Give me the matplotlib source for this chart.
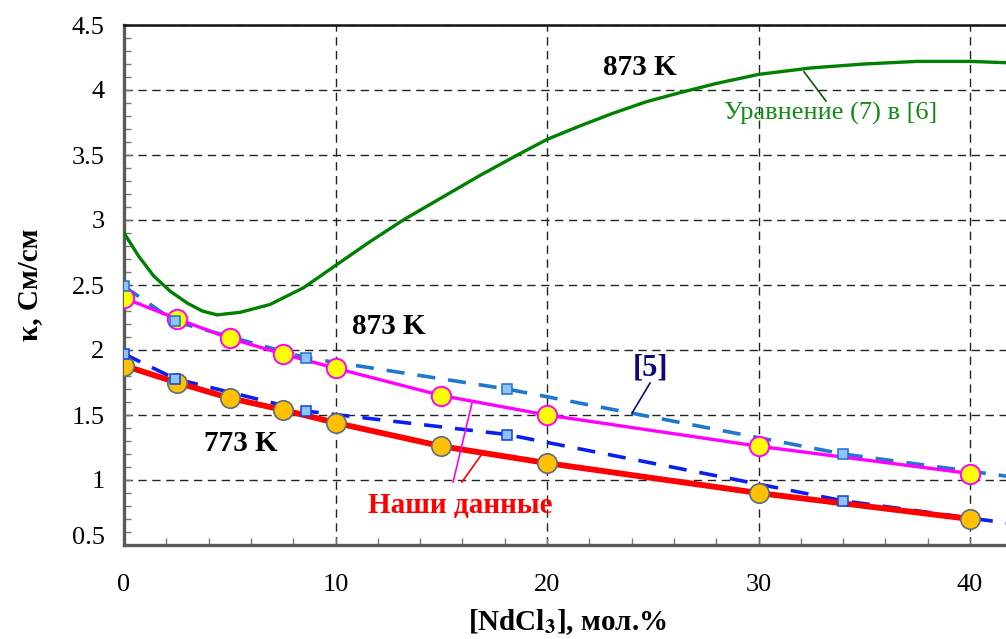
import matplotlib
matplotlib.use("Agg")
import matplotlib.pyplot as plt
from matplotlib.ticker import MultipleLocator
from matplotlib.transforms import ScaledTranslation

# ---- data ----
x_ours = [0, 2.5, 5, 7.5, 10, 15, 20, 30, 40]
y_ours_873 = [2.40, 2.24, 2.09, 1.97, 1.86, 1.65, 1.50, 1.26, 1.05]
y_ours_773 = [1.88, 1.75, 1.63, 1.54, 1.44, 1.26, 1.13, 0.90, 0.70]

x_ref5 = [0, 2.4, 8.6, 18.1, 34, 41.7]
y_ref5_873 = [2.49, 2.22, 1.94, 1.70, 1.20, 1.03]
y_ref5_773 = [1.97, 1.78, 1.53, 1.35, 0.84, 0.67]

x_eq7 = [0, 0.7, 1.4, 2.2, 3.0, 3.7, 4.4, 5.5, 6.9, 8.5, 10, 11.6, 13.2, 15, 16.8,
         18.6, 20, 21.5, 23.1, 24.7, 26.3, 28, 30, 32.5, 35, 37.5, 40, 41.7]
y_eq7 = [2.90, 2.72, 2.57, 2.45, 2.36, 2.30, 2.27, 2.29, 2.35, 2.48, 2.65, 2.83,
         3.00, 3.17, 3.34, 3.50, 3.62, 3.72, 3.82, 3.91, 3.98, 4.05, 4.12, 4.17,
         4.20, 4.22, 4.22, 4.21]

xticks = [0, 10, 20, 30, 40]
yticks = [0.5, 1, 1.5, 2, 2.5, 3, 3.5, 4, 4.5]
ytick_labels = ["0.5", "1", "1.5", "2", "2.5", "3", "3.5", "4", "4.5"]

# ---- style ----
plt.rcParams["font.family"] = ["Liberation Serif", "DejaVu Serif"]
plt.rcParams["mathtext.fontset"] = "stix"

fig = plt.figure(figsize=(10.06, 6.39), dpi=100)
ax = fig.add_axes([124 / 1006, 94 / 639, 882 / 1006, 520 / 639])

ax.set_xlim(0, 41.7)
ax.set_ylim(0.5, 4.5)

grid_kw = dict(color="#222222", lw=1.0, ls=(0, (6, 4)), zorder=1)
ax.grid(True, which="major", **grid_kw)

# green curve (eq. 7 in [6])
ax.plot(x_eq7, y_eq7, color="#008000", lw=2.4, zorder=3, solid_capstyle="round",
        solid_joinstyle="round")

# [5] dashed curves
ax.plot(x_ref5, y_ref5_873, color="#1F78CC", lw=2.6, ls=(0, (5, 3.6)), zorder=4)
ax.plot(x_ref5, y_ref5_773, color="#0A1EF0", lw=2.6, ls=(0, (5, 3.6)), zorder=4)

# our data
ax.plot(x_ours, y_ours_773, color="#FF0000", lw=4.2, zorder=5)
ax.plot(x_ours, y_ours_873, color="#FF00FF", lw=2.4, zorder=5)
ax.plot(x_ours, y_ours_773, ls="none", marker="o", ms=14, mfc="#FFC000",
        mec="#5F6B85", mew=1.2, zorder=6)
ax.plot(x_ours, y_ours_873, ls="none", marker="o", ms=14, mfc="#FFFF00",
        mec="#FF00FF", mew=1.4, zorder=6)

# [5] squares
ax.plot(x_ref5[:-1], y_ref5_873[:-1], ls="none", marker="s", ms=7.5, mfc="#8EC3F5",
        mec="#1F6FD0", mew=1.1, zorder=7)
ax.plot(x_ref5[:-1], y_ref5_773[:-1], ls="none", marker="s", ms=7.5, mfc="#8EC3F5",
        mec="#1040E0", mew=1.1, zorder=7)

# axes styling
for side in ["left", "bottom"]:
    ax.spines[side].set_color("#5A5A5A")
    ax.spines[side].set_linewidth(2.4)
ax.spines["top"].set_color("#111111")
ax.spines["top"].set_linewidth(1.8)
ax.spines["right"].set_visible(False)

ax.set_xticks(xticks)
ax.set_yticks(yticks)
ax.set_yticklabels(ytick_labels)
ax.xaxis.set_minor_locator(MultipleLocator(2))
ax.yaxis.set_minor_locator(MultipleLocator(0.1))
ax.tick_params(axis="both", which="both", direction="in", color="#777777",
               width=1.0, labelsize=19, top=False, right=False)
ax.tick_params(axis="both", which="major", length=5)
ax.tick_params(axis="both", which="minor", length=5)
ax.tick_params(axis="x", which="major", pad=21)
ax.tick_params(axis="y", which="major", pad=14)

# bottom y tick label sits slightly above the axis line
for lbl in ax.get_yticklabels():
    if lbl.get_text() == "0.5":
        lbl.set_transform(lbl.get_transform() + ScaledTranslation(0, 0.09, fig.dpi_scale_trans))

ax.set_ylabel("κ, См/см", fontsize=21, fontweight="bold")
ax.yaxis.set_label_coords(-0.107, 0.5)
ax.yaxis.label.set_va("center")
ax.set_xlabel(r"[NdCl$_\mathbf{3}$], мол.%", fontsize=21, fontweight="bold")
ax.xaxis.set_label_coords(0.503, -0.148)
ax.xaxis.label.set_va("center")

# annotations
bold = dict(fontsize=21, fontweight="bold", ha="center", va="center", zorder=8)
ax.text(24.4, 4.17, "873 K", color="black", **bold)
ax.text(12.5, 2.18, "873 K", color="black", **bold)
ax.text(5.5, 1.28, "773 K", color="black", **bold)
ax.text(24.9, 1.86, "[5]", color="#0A0A78", fontsize=22, fontweight="bold",
        ha="center", va="center", zorder=8)
ax.text(15.9, 0.80, "Наши данные", color="#FF0000", **bold)
ax.text(33.4, 3.82, "Уравнение (7) в [6]", color="#138A13", fontsize=19,
        ha="center", va="center", zorder=8)

ax.plot([24.87, 24.02], [1.746, 1.515], color="#0A0A78", lw=1.2, zorder=8)
ax.plot([15.56, 16.45], [0.985, 1.59], color="#FF00FF", lw=1.2, zorder=8)
ax.plot([15.98, 16.88], [0.985, 1.19], color="#FF0000", lw=1.2, zorder=8)
ax.plot([33.19, 32.15], [3.915, 4.14], color="#0A5A0A", lw=1.2, zorder=8)

fig.savefig("out.png", dpi=100)
